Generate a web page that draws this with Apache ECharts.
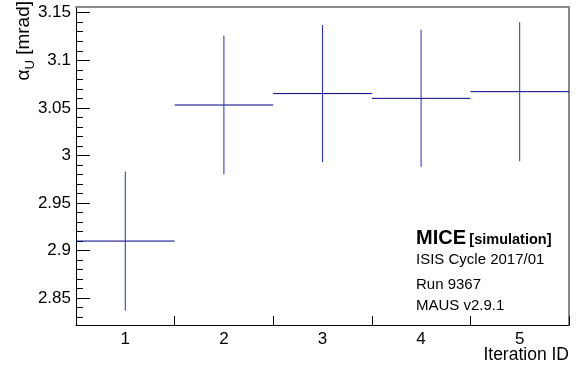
<!DOCTYPE html>
<html><head><meta charset="utf-8">
<script src="https://cdn.jsdelivr.net/npm/echarts@6/dist/echarts.min.js"></script>
<style>html,body{margin:0;padding:0;background:#fff}#c{width:580px;height:367px}</style>
</head><body><div id="c"></div>
<script>
const categories = ['1', '2', '3', '4', '5'];
const values = [2.910, 3.053, 3.065, 3.060, 3.067];
const errors = [0.073, 0.073, 0.072, 0.072, 0.073];
const yRange = [2.8218, 3.156];
const yMajorTicks = [2.85, 2.9, 2.95, 3, 3.05, 3.1, 3.15];
const yMinorTicks = [2.83, 2.84, 2.85, 2.86, 2.87, 2.88, 2.89, 2.9, 2.91, 2.92, 2.93, 2.94, 2.95,
  2.96, 2.97, 2.98, 2.99, 3, 3.01, 3.02, 3.03, 3.04, 3.05, 3.06, 3.07, 3.08, 3.09, 3.1,
  3.11, 3.12, 3.13, 3.14, 3.15];
const xTitle = 'Iteration ID';
const infoLines = ['ISIS Cycle 2017/01', 'Run 9367', 'MAUS v2.9.1'];

const FONT = 'Liberation Sans, Arial, sans-serif';
const chart = echarts.init(document.getElementById('c'), null, {renderer: 'canvas'});
const seriesData = values.map((v, i) => [i, v, v - errors[i], v + errors[i]]);

const grid = {left: 76, right: 11, top: 7, bottom: 42};
const W = 580, H = 367;
const plotRight = W - grid.right;

chart.setOption({
  animation: false,
  backgroundColor: '#fff',
  grid: grid,
  xAxis: [{
    type: 'category', data: categories, boundaryGap: true, position: 'bottom',
    axisLine: {show: true, lineStyle: {color: '#000', width: 1}},
    axisTick: {show: true, inside: true, length: 9, lineStyle: {color: '#000'}},
    axisLabel: {show: true, color: '#000', fontSize: 17, fontFamily: FONT, margin: 6},
    splitLine: {show: false}
  }, {
    type: 'category', data: categories, boundaryGap: true, position: 'top',
    axisLine: {show: true, lineStyle: {color: '#888', width: 2}},
    axisTick: {show: false}, axisLabel: {show: false}, splitLine: {show: false}
  }],
  yAxis: [{
    type: 'value', min: yRange[0], max: yRange[1], position: 'left',
    axisLine: {show: true, lineStyle: {color: '#000', width: 1}},
    axisTick: {show: true, inside: true, length: 14, customValues: yMajorTicks, lineStyle: {color: '#000'}},
    axisLabel: {show: true, customValues: yMajorTicks, color: '#000', fontSize: 17, fontFamily: FONT, margin: 5,
      formatter: v => String(Math.round(v * 100) / 100)},
    splitLine: {show: false}
  }, {
    type: 'value', min: yRange[0], max: yRange[1], position: 'left',
    axisLine: {show: false},
    axisTick: {show: true, inside: true, length: 7, customValues: yMinorTicks, lineStyle: {color: '#000'}},
    axisLabel: {show: false}, splitLine: {show: false}
  }, {
    type: 'value', min: yRange[0], max: yRange[1], position: 'right',
    axisLine: {show: true, lineStyle: {color: '#888', width: 2}},
    axisTick: {show: false}, axisLabel: {show: false}, splitLine: {show: false}
  }],
  series: [{
    type: 'custom',
    xAxisIndex: 0, yAxisIndex: 0,
    data: seriesData,
    encode: {x: 0, y: 1},
    renderItem: function (params, api) {
      const x = api.value(0), y = api.value(1), lo = api.value(2), hi = api.value(3);
      const c = api.coord([x, y]);
      const t = api.coord([x, hi]);
      const b = api.coord([x, lo]);
      const w = api.size([1, 0])[0];
      return {type: 'group', children: [
        {type: 'line', shape: {x1: c[0] - w / 2, y1: c[1], x2: c[0] + w / 2, y2: c[1]},
          style: {stroke: '#000080', lineWidth: 1}},
        {type: 'line', shape: {x1: t[0], y1: t[1], x2: b[0], y2: b[1]},
          style: {stroke: '#2b2bcc', lineWidth: 1}}
      ]};
    }
  }],
  graphic: [
    {type: 'text', x: 24, y: 1, rotation: Math.PI / 2,
      style: {text: 'α{sub|U} [mrad]', fill: '#000', font: '19px ' + FONT, align: 'right', verticalAlign: 'middle',
        rich: {sub: {fontSize: 13, fontFamily: FONT, fill: '#000', padding: [12, 0, 0, 0]}}}},
    {type: 'text', x: plotRight, y: 355.5,
      style: {text: xTitle, fill: '#000', font: '17.5px ' + FONT, align: 'right', verticalAlign: 'middle'}},
    {type: 'text', x: 416, y: 238,
      style: {text: '{b|MICE} {s|[simulation]}', fill: '#000', verticalAlign: 'middle',
        rich: {b: {fontSize: 20, fontWeight: 'bold', fontFamily: FONT, fill: '#000'},
               s: {fontSize: 14.5, fontWeight: 'bold', fontFamily: FONT, fill: '#000', padding: [4, 0, 0, 0]}}}},
    {type: 'text', x: 416, y: 260, style: {text: infoLines[0], fill: '#000', font: '15px ' + FONT, verticalAlign: 'middle'}},
    {type: 'text', x: 416, y: 285, style: {text: infoLines[1], fill: '#000', font: '15px ' + FONT, verticalAlign: 'middle'}},
    {type: 'text', x: 416, y: 305.5, style: {text: infoLines[2], fill: '#000', font: '15px ' + FONT, verticalAlign: 'middle'}}
  ]
});
</script></body></html>
